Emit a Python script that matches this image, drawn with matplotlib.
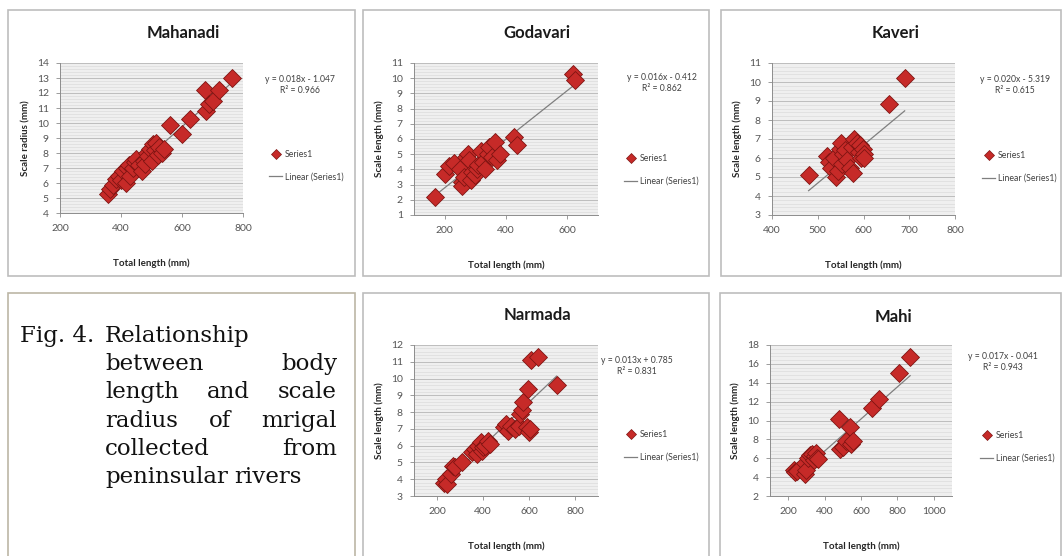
import matplotlib
matplotlib.use("Agg")
import matplotlib.pyplot as plt
from matplotlib.patches import Rectangle
from matplotlib.lines import Line2D
from matplotlib.ticker import MultipleLocator, AutoMinorLocator

W, H = 1062, 556

# ---- data ----
mahanadi_x = [358, 364, 375, 385, 395, 400, 405, 415, 420, 425, 430, 440, 445, 450, 460,
              470, 475, 480, 485, 490, 495, 500, 505, 510, 515, 520, 525, 535, 540, 560,
              600, 625, 675, 678, 690, 700, 720, 765]
mahanadi_y = [5.3, 5.6, 5.9, 6.3, 6.5, 6.2, 6.8, 6.0, 7.0, 7.2, 6.5, 7.0, 7.4, 7.6, 7.2,
              6.8, 7.5, 7.3, 8.0, 7.8, 8.3, 7.5, 8.6, 8.2, 8.7, 7.9, 8.4, 8.0, 8.3, 9.9,
              9.3, 10.3, 12.2, 10.8, 11.3, 11.5, 12.2, 13.0]

godavari_x = [168, 200, 215, 230, 250, 255, 258, 262, 270, 275, 280, 285, 290, 300, 305,
              310, 320, 325, 330, 340, 345, 355, 365, 370, 380, 425, 435, 620, 625]
godavari_y = [2.2, 3.7, 4.2, 4.4, 4.0, 3.2, 2.9, 3.5, 4.8, 5.0, 4.6, 3.3, 3.8, 3.6, 4.0,
              4.3, 5.2, 4.5, 4.0, 5.0, 5.5, 4.8, 5.8, 4.6, 5.0, 6.1, 5.6, 10.3, 9.9]

kaveri_x = [480, 520, 525, 530, 535, 540, 545, 548, 550, 552, 555, 560, 565, 570, 575,
            578, 580, 585, 590, 592, 595, 598, 600, 602, 655, 690]
kaveri_y = [5.1, 6.1, 5.8, 5.5, 6.0, 5.0, 5.3, 6.5, 6.8, 5.7, 6.2, 6.4, 5.9, 5.5, 6.6,
            5.2, 7.0, 6.8, 6.3, 6.7, 6.0, 6.5, 6.2, 6.0, 8.85, 10.2]

narmada_x = [230, 240, 245, 260, 270, 280, 310, 350, 365, 375, 380, 390, 395, 400, 410,
             420, 430, 490, 500, 510, 520, 540, 555, 560, 570, 575, 590, 595, 600, 605,
             610, 640, 720]
narmada_y = [3.8, 4.0, 3.7, 4.3, 4.8, 4.7, 5.0, 5.6, 5.8, 5.5, 6.0, 6.2, 5.7, 5.9, 6.0,
             6.3, 6.1, 7.1, 7.3, 6.9, 7.2, 7.0, 7.2, 7.9, 8.1, 8.6, 7.1, 9.4, 6.8, 7.0,
             11.1, 11.3, 9.6]

mahi_x = [230, 240, 250, 290, 295, 300, 310, 320, 330, 340, 345, 350, 360, 365, 480,
          485, 500, 520, 540, 545, 555, 660, 700, 810, 870]
mahi_y = [4.8, 4.5, 4.7, 4.3, 5.5, 4.8, 6.0, 6.3, 6.5, 5.8, 6.2, 6.6, 6.0, 5.9, 10.2,
          7.0, 7.2, 7.8, 9.3, 7.5, 7.8, 11.3, 12.3, 15.0, 16.7]

rivers = ["Mahanadi", "Godavari", "Kaveri", "Narmada", "Mahi"]
slopes = [0.018, 0.016, 0.020, 0.013, 0.017]
intercepts = [-1.047, -0.412, -5.319, 0.785, -0.041]
r_squared = ["0.966", "0.862", "0.615", "0.831", "0.943"]
equations = ["y = 0.018x - 1.047", "y = 0.016x - 0.412", "y = 0.020x - 5.319",
             "y = 0.013x + 0.785", "y = 0.017x - 0.041"]
y_labels = ["Scale radius (mm)", "Scale length (mm)", "Scale length (mm)",
            "Scale length (mm)", "Scale length (mm)"]
x_limits = [(200, 800), (100, 700), (400, 800), (100, 900), (100, 1100)]
x_steps = [200, 200, 100, 200, 200]
y_limits = [(4, 14), (1, 11), (3, 11), (3, 12), (2, 18)]
y_steps = [1, 1, 1, 1, 2]
xs = [mahanadi_x, godavari_x, kaveri_x, narmada_x, mahi_x]
ys = [mahanadi_y, godavari_y, kaveri_y, narmada_y, mahi_y]

caption_label = "Fig. 4."
caption_lines = [["Relationship"], ["between", "body"], ["length", "and", "scale"],
                 ["radius", "of", "mrigal"], ["collected", "from"],
                 ["peninsular", "rivers"]]

# ---- layout (pixels, origin top-left) ----
frames = [(8, 10, 355, 276), (363, 10, 709, 276), (721, 10, 1061, 276),
          (363, 293, 709, 560), (720, 293, 1061, 560)]
axes_px = [(60, 63, 243, 213), (414, 63, 598, 215), (772, 63, 955, 215),
           (414, 345, 598, 496), (770, 345, 952, 496)]
title_pos = [(183, 33), (537, 33), (896, 33), (537, 315), (893, 317)]
eq_pos = [(300, 85), (662, 83), (1015, 85), (637, 366), (1003, 362)]
legend_pos = [(262, 166), (617, 170), (975, 167), (617, 446), (973, 447)]

FONT = "Lato"
RED = "#c62a28"
RED_EDGE = "#7e1412"


def fx(x):
    return x / W


def fy(y):
    return 1 - y / H


fig = plt.figure(figsize=(W / 100, H / 100), dpi=100)
fig.patch.set_facecolor("white")


def frame(x0, y0, x1, y1, color="#bdbdbd"):
    fig.patches.append(Rectangle((fx(x0), fy(y1)), fx(x1) - fx(x0), fy(y0) - fy(y1),
                                 transform=fig.transFigure, fill=False,
                                 edgecolor=color, linewidth=1.2))


for i, river in enumerate(rivers):
    frame(*frames[i])
    l, t, r, b = axes_px[i]
    ax = fig.add_axes([fx(l), fy(b), fx(r) - fx(l), fy(t) - fy(b)])
    ax.set_facecolor("#efefef")
    ax.set_xlim(*x_limits[i])
    ax.set_ylim(*y_limits[i])
    ax.xaxis.set_major_locator(MultipleLocator(x_steps[i]))
    ax.yaxis.set_major_locator(MultipleLocator(y_steps[i]))
    ax.yaxis.set_minor_locator(AutoMinorLocator(5))
    ax.grid(axis="y", which="major", color="#b5b5b5", linewidth=0.6)
    ax.grid(axis="y", which="minor", color="#d6d6d6", linewidth=0.4)
    ax.set_axisbelow(True)
    for side in ("top", "right"):
        ax.spines[side].set_visible(False)
    for side in ("left", "bottom"):
        ax.spines[side].set_color("#8c8c8c")
        ax.spines[side].set_linewidth(0.7)
    ax.tick_params(which="major", length=3, width=0.6, color="#8c8c8c",
                   labelsize=7.5, labelcolor="#555555", pad=5)
    ax.tick_params(which="minor", length=0)
    for lab in ax.get_xticklabels() + ax.get_yticklabels():
        lab.set_fontfamily(FONT)

    x0, x1 = min(xs[i]), max(xs[i])
    ax.plot([x0, x1], [slopes[i] * x0 + intercepts[i], slopes[i] * x1 + intercepts[i]],
            color="#7f7f7f", linewidth=0.9, zorder=2)
    ax.plot(xs[i], ys[i], linestyle="none", marker="D", markersize=9,
            markerfacecolor=RED, markeredgecolor=RED_EDGE, markeredgewidth=0.6, zorder=3)

    ax.set_ylabel(y_labels[i], fontsize=7, fontweight="bold", family=FONT, color="#262626")
    ax.yaxis.set_label_coords(-30 / (r - l), 0.5)
    ax.set_xlabel("Total length (mm)", fontsize=7, fontweight="bold", family=FONT,
                  color="#262626")
    ax.xaxis.set_label_coords(0.5, -45 / (b - t))

    tx, ty = title_pos[i]
    fig.text(fx(tx), fy(ty), river, ha="center", va="center", fontsize=12,
             fontweight="bold", family=FONT, color="#1a1a1a")
    ex, ey = eq_pos[i]
    fig.text(fx(ex), fy(ey), f"{equations[i]}\nR² = {r_squared[i]}", ha="center",
             va="center", fontsize=6.2, family=FONT, color="#404040", linespacing=1.3)

    handles = [Line2D([], [], linestyle="none", marker="D", markersize=5.5,
                      markerfacecolor=RED, markeredgecolor=RED_EDGE, markeredgewidth=0.5),
               Line2D([], [], color="#7f7f7f", linewidth=0.9)]
    lx, ly = legend_pos[i]
    leg = ax.legend(handles, ["Series1", "Linear (Series1)"], loc="center left",
                    bbox_to_anchor=(fx(lx), fy(ly)), bbox_transform=fig.transFigure,
                    frameon=False, prop={"family": FONT, "size": 6.3}, handlelength=1.5,
                    handletextpad=0.3, labelspacing=1.5, labelcolor="#404040",
                    borderpad=0.3)
    leg.set_clip_on(False)

# ---- caption box ----
frame(8, 293, 355, 560, color="#bcb6a6")
serif = "DejaVu Serif"
cap_size = 16.5
baselines = [342, 370, 398, 427, 455, 483]
left_px, right_px = 105, 337
fig.text(fx(20), fy(baselines[0]), caption_label, fontsize=cap_size, family=serif,
         va="baseline", ha="left", color="#111111")
renderer = fig.canvas.get_renderer()
for k, words in enumerate(caption_lines):
    yb = fy(baselines[k])
    texts = [fig.text(0, yb, w, fontsize=cap_size, family=serif, va="baseline",
                      ha="left", color="#111111") for w in words]
    widths = [t.get_window_extent(renderer).width for t in texts]
    justify = len(words) > 1 and k < len(caption_lines) - 1
    if justify:
        gap = (right_px - left_px - sum(widths)) / (len(words) - 1)
    else:
        gap = 6
    pos = left_px
    for t, w_ in zip(texts, widths):
        t.set_x(fx(pos))
        pos += w_ + gap

fig.savefig("out.png", dpi=100)
